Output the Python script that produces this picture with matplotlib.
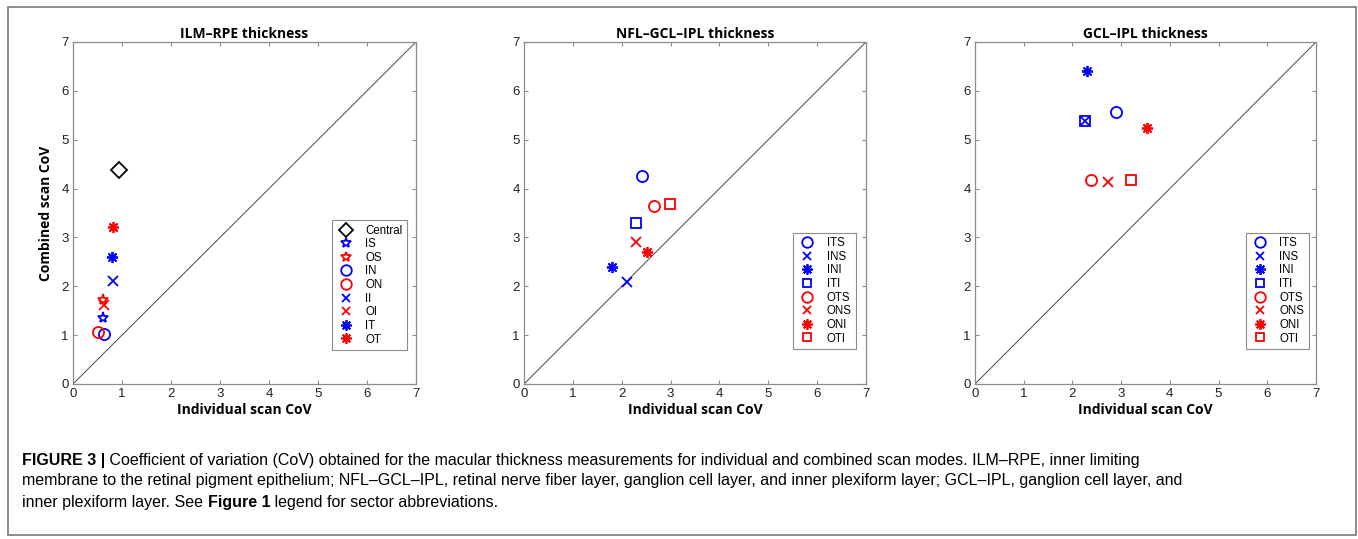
import numpy as np
import matplotlib
matplotlib.use('Agg')
import matplotlib.pyplot as plt
from matplotlib.patches import Rectangle

plt.rcParams['font.family'] = ['Liberation Sans', 'DejaVu Sans']

# ILM-RPE thickness
ilm_labels = ['Central', 'IS', 'OS', 'IN', 'ON', 'II', 'OI', 'IT', 'OT']
ilm_x = [0.94, 0.61, 0.61, 0.63, 0.52, 0.82, 0.63, 0.80, 0.81]
ilm_y = [4.38, 1.35, 1.72, 1.03, 1.06, 2.11, 1.61, 2.59, 3.21]

# NFL-GCL-IPL and GCL-IPL thickness
sec_labels = ['ITS', 'INS', 'INI', 'ITI', 'OTS', 'ONS', 'ONI', 'OTI']
nfl_x = [2.41, 2.10, 1.80, 2.29, 2.66, 2.30, 2.52, 2.99]
nfl_y = [4.25, 2.09, 2.40, 3.29, 3.65, 2.90, 2.71, 3.68]
gcl_x = [2.90, 2.26, 2.29, 2.26, 2.38, 2.72, 3.53, 3.20]
gcl_y = [5.57, 5.38, 6.41, 5.38, 4.17, 4.13, 5.25, 4.18]

titles = ['ILM\u2013RPE thickness', 'NFL\u2013GCL\u2013IPL thickness', 'GCL\u2013IPL thickness']

ast = (8, 2, 0)  # 8-armed asterisk like matlab '*'
ilm_style = [('D', 'black'), ('*', 'blue'), ('*', 'red'), ('o', 'blue'), ('o', 'red'),
             ('x', 'blue'), ('x', 'red'), (ast, 'blue'), (ast, 'red')]
sec_style = [('o', 'blue'), ('x', 'blue'), (ast, 'blue'), ('s', 'blue'),
             ('o', 'red'), ('x', 'red'), (ast, 'red'), ('s', 'red')]
msize = {'D': 8, '*': 8, 'o': 8, 'x': 6.5, 's': 6.5}

fig = plt.figure(figsize=(13.58, 5.39), dpi=100)
W, H = 1358, 539

# outer frame
fig.add_artist(Rectangle((7.5 / W, 4 / H), 1348 / W, 528 / H, transform=fig.transFigure,
                         fill=False, edgecolor='#7a7a7a', lw=1.2))

lefts = [73, 524, 975]
widths = [343, 342, 341]
legend_anchor = [(0.974, 0.099), (0.971, 0.102), (0.979, 0.102)]
panels = [(ilm_x, ilm_y, ilm_labels, ilm_style),
          (nfl_x, nfl_y, sec_labels, sec_style),
          (gcl_x, gcl_y, sec_labels, sec_style)]

bold_font = ['Open Sans', 'DejaVu Sans']

for i, (xs, ys, labs, sty) in enumerate(panels):
    ax = fig.add_axes([lefts[i] / W, (H - 384) / H, widths[i] / W, 342 / H])
    ax.plot([0, 7], [0, 7], color='#4a4a4a', lw=0.7)
    for x, y, lab, (m, c) in zip(xs, ys, labs, sty):
        ms = msize.get(m, 8) if isinstance(m, str) else 8
        ax.plot(x, y, linestyle='none', marker=m, markersize=ms, markerfacecolor='none',
                markeredgecolor=c, markeredgewidth=1.3, label=lab)
    ax.set_xlim(0, 7)
    ax.set_ylim(0, 7)
    ax.set_xticks(range(8))
    ax.set_yticks(range(8))
    for s in ax.spines.values():
        s.set_color('#8c8c8c')
        s.set_linewidth(0.9)
    ax.tick_params(direction='in', length=3, width=0.8, color='#8c8c8c',
                   top=True, right=True, labelsize=9.5, labelcolor='#222222', pad=3)
    ax.set_title(titles[i], fontsize=10, fontweight='bold', family=bold_font, pad=3)
    ax.set_xlabel('Individual scan CoV', fontsize=10, fontweight='bold', family=bold_font, labelpad=2)
    if i == 0:
        ax.set_ylabel('Combined scan CoV', fontsize=10, fontweight='bold', family=bold_font, labelpad=6)
    leg = ax.legend(loc='lower right', bbox_to_anchor=legend_anchor[i], borderaxespad=0,
                    fontsize=8.3, fancybox=False, framealpha=1, edgecolor='#8c8c8c',
                    handlelength=1.6, handletextpad=0.9, labelspacing=0.14, borderpad=0.4,
                    numpoints=1, markerscale=0.95)
    leg.get_frame().set_linewidth(0.8)

# caption
cap_size = 11.5
y1, y2, y3 = 1 - 460 / H, 1 - 481 / H, 1 - 502 / H
t1 = fig.text(22 / W, y1, 'FIGURE 3 |', fontsize=cap_size, fontweight='bold', va='center')
plt.annotate(' Coefficient of variation (CoV) obtained for the macular thickness measurements for '
             'individual and combined scan modes. ILM\u2013RPE, inner limiting',
             xy=(1, 0.5), xycoords=t1, va='center', ha='left', fontsize=cap_size,
             annotation_clip=False)
fig.text(22 / W, y2, 'membrane to the retinal pigment epithelium; NFL\u2013GCL\u2013IPL, retinal nerve fiber '
         'layer, ganglion cell layer, and inner plexiform layer; GCL\u2013IPL, ganglion cell layer, and',
         fontsize=cap_size, va='center')
t3 = fig.text(22 / W, y3, 'inner plexiform layer. See ', fontsize=cap_size, va='center')
t4 = plt.annotate('Figure 1', xy=(1, 0.5), xycoords=t3, va='center', ha='left',
                  fontsize=cap_size, fontweight='bold', annotation_clip=False)
plt.annotate(' legend for sector abbreviations.', xy=(1, 0.5), xycoords=t4, va='center',
             ha='left', fontsize=cap_size, annotation_clip=False)

fig.savefig('out.png', dpi=100)
